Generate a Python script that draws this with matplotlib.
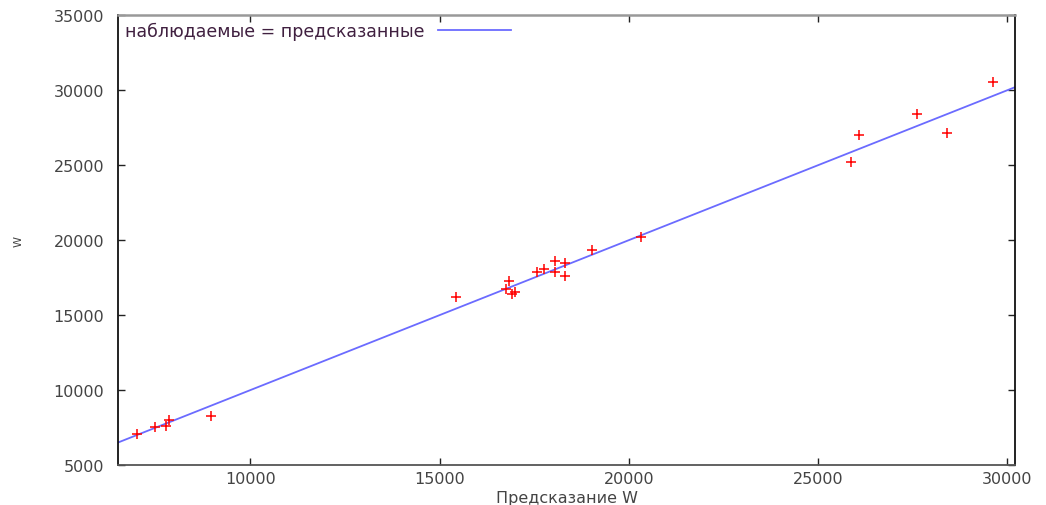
import matplotlib
matplotlib.use("Agg")
import matplotlib.pyplot as plt
import numpy as np

predicted = [7000, 7480, 7770, 7850, 8970, 15440, 16820, 16740, 16920, 17000,
             17560, 17750, 18040, 18040, 18300, 18300, 19020, 20320,
             25860, 26070, 27610, 28410, 29630]
observed = [7070, 7530, 7600, 8000, 8270, 16200, 17270, 16730, 16400, 16530,
            17870, 18070, 18600, 17870, 18470, 17600, 19330, 20200,
            25200, 27000, 28400, 27130, 30530]

x_min, x_max = 6500, 30200
y_ticks = [5000, 10000, 15000, 20000, 25000, 30000, 35000]
x_ticks = [10000, 15000, 20000, 25000, 30000]

plt.rcParams['font.family'] = ['DejaVu Sans']

fig = plt.figure(figsize=(10.46, 5.06), dpi=100)
ax = fig.add_axes([0.1128, 0.079, 0.8576, 0.889])

diag = np.array([x_min, x_max])
ax.plot(diag, diag, color='#6b6bff', lw=1.3, label='наблюдаемые = предсказанные')
ax.plot(predicted, observed, linestyle='none', marker='+', color='red',
        markersize=7, markeredgewidth=1.1)

ax.set_xlim(x_min, x_max)
ax.set_ylim(5000, 35000)
ax.set_xticks(x_ticks)
ax.set_yticks(y_ticks)
ax.tick_params(direction='in', top=True, right=True, length=5, width=1,
               colors='#222', labelcolor='#444', labelsize=11.5)
ax.tick_params(axis='x', pad=4)
ax.tick_params(axis='y', pad=10)

for side in ['left', 'right']:
    ax.spines[side].set_color('#111')
    ax.spines[side].set_linewidth(1.3)
ax.spines['top'].set_color('#999')
ax.spines['top'].set_linewidth(1.8)
ax.spines['bottom'].set_color('#555')
ax.spines['bottom'].set_linewidth(1.3)

ax.set_xlabel('Предсказание W', color='#444', fontsize=11.5)
ax.xaxis.set_label_coords(0.5, -0.072)
ax.xaxis.label.set_verticalalignment('center')
ax.set_ylabel('W', color='#444', fontsize=8)
ax.yaxis.set_label_coords(-0.111, 0.5)
ax.yaxis.label.set_verticalalignment('center')

leg = ax.legend(loc='upper left', frameon=False, markerfirst=False,
                handlelength=4.2, borderaxespad=0.1, borderpad=0.3,
                fontsize=12.5, handletextpad=0.8)
for t in leg.get_texts():
    t.set_color('#402040')

fig.savefig('out.png', dpi=100, facecolor='white')
